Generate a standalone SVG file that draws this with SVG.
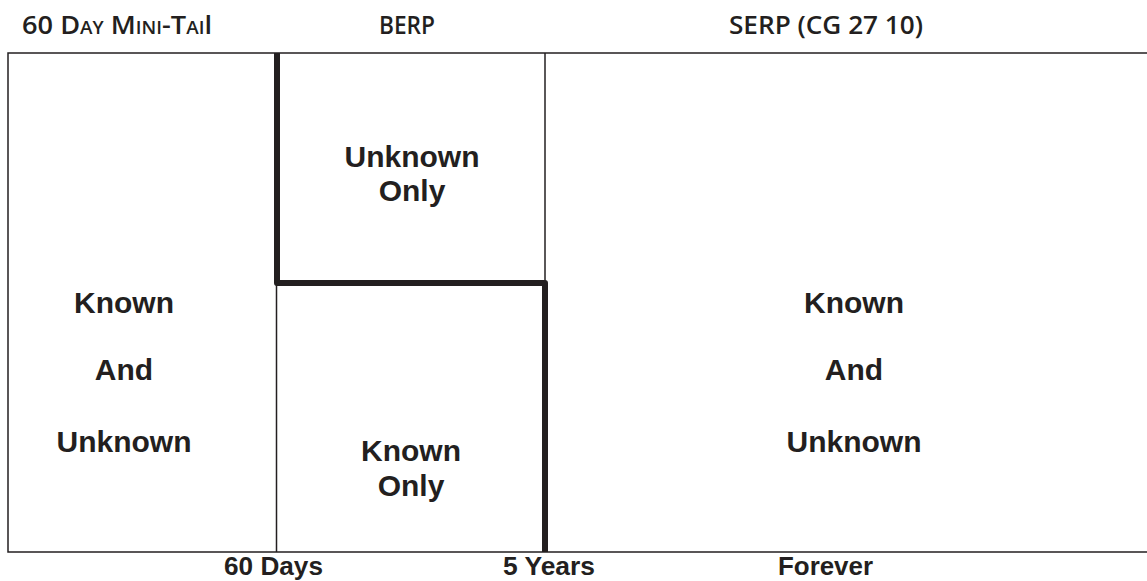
<svg xmlns="http://www.w3.org/2000/svg" width="1147" height="581" viewBox="0 0 1147 581">
<style>
.hdr{font-family:"Open Sans","Liberation Sans",Arial,sans-serif;font-size:26px;font-weight:600;fill:#231f20}
.sc{font-variant:small-caps}
.lbl{font-family:"Liberation Sans",Arial,sans-serif;font-weight:bold;font-size:30px;fill:#231f20;text-anchor:middle}
.axis{font-family:"Liberation Sans",Arial,sans-serif;font-weight:bold;font-size:25px;fill:#231f20}
.thin{stroke:#231f20;stroke-width:1.5;fill:none}
.thick{stroke:#231f20;stroke-width:6;fill:none;stroke-linejoin:round}
</style>
<rect width="1147" height="581" fill="#ffffff"/>
<g id="headers">
<text class="hdr sc" x="22" y="34" textLength="190" lengthAdjust="spacingAndGlyphs">60 Day Mini-Tai<tspan font-variant="normal">l</tspan></text>
<text class="hdr" x="379" y="34" textLength="56" lengthAdjust="spacingAndGlyphs">BERP</text>
<text class="hdr" x="729" y="34" textLength="194" lengthAdjust="spacingAndGlyphs">SERP (CG 27 10)</text>
</g>
<g id="connectors">
<polyline class="thin" points="1147,53 8,53 8,552 1147,552"/>
<line class="thin" x1="545" y1="53" x2="545" y2="283"/>
<line class="thin" x1="276.5" y1="283" x2="276.5" y2="552"/>
<polyline class="thick" points="277,53 277,283 545,283 545,552"/>
</g>
<g id="mini-tail">
<text class="lbl" x="124" y="313">Known</text>
<text class="lbl" x="124" y="380">And</text>
<text class="lbl" x="124" y="452">Unknown</text>
</g>
<g id="berp-unknown">
<text class="lbl" x="412" y="167">Unknown</text>
<text class="lbl" x="412" y="201">Only</text>
</g>
<g id="berp-known">
<text class="lbl" x="411" y="461">Known</text>
<text class="lbl" x="411" y="496">Only</text>
</g>
<g id="serp">
<text class="lbl" x="854" y="313">Known</text>
<text class="lbl" x="854" y="380">And</text>
<text class="lbl" x="854" y="452">Unknown</text>
</g>
<g id="axis">
<text class="axis" x="224" y="575" textLength="99" lengthAdjust="spacingAndGlyphs">60 Days</text>
<text class="axis" x="503" y="575" textLength="92" lengthAdjust="spacingAndGlyphs">5 Years</text>
<text class="axis" x="778" y="575" textLength="95" lengthAdjust="spacingAndGlyphs">Forever</text>
</g>
</svg>
